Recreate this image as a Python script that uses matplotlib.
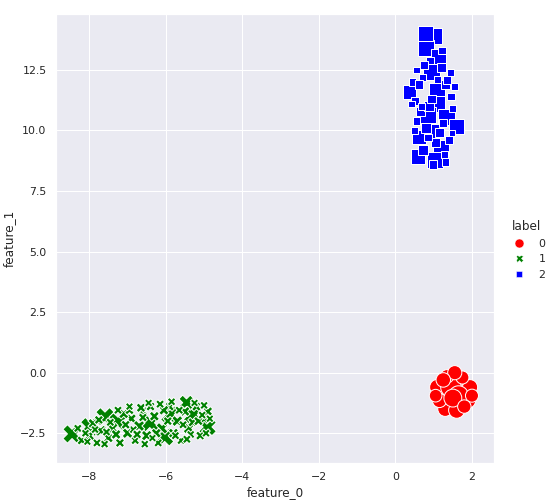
import matplotlib
matplotlib.use("Agg")
import matplotlib.pyplot as plt
from matplotlib.lines import Line2D
import seaborn as sns

sns.set_theme()

# cluster 0 (red circles)
red_x = [1.52, 1.35, 1.70, 1.20, 1.85, 1.40, 1.70, 1.55, 1.10, 1.95, 1.30, 1.60, 1.15, 1.90,
         1.45, 1.65, 1.50, 1.35, 1.75, 1.05, 2.00, 1.55, 1.25, 1.80]
red_y = [-0.85, -0.45, -0.40, -0.90, -0.85, -1.25, -1.20, -0.15, -0.60, -0.60, -1.50, -1.55,
         -1.15, -1.15, -0.60, -0.95, -1.05, -0.15, -0.20, -0.95, -0.95, 0.00, -0.30, -1.40]
red_s = [480, 380, 340, 350, 360, 340, 350, 300, 250, 230, 220, 260, 200, 230, 420, 390,
         320, 180, 170, 160, 170, 200, 210, 180]

# cluster 1 (green crosses)
green_x = [-8.45, -7.98, -7.59, -7.25, -6.42, -6.03, -5.90, -5.30, -4.91, -5.46,
           -8.2, -8.0, -7.8, -7.7, -7.5, -7.4, -7.2, -7.0, -6.9, -6.8, -6.7, -6.6, -6.5,
           -6.3, -6.2, -6.1, -5.9, -5.8, -5.7, -5.6, -5.5, -5.4, -5.2, -5.1, -5.0, -4.9,
           -7.9, -7.1, -6.4, -6.85, -7.6, -5.3, -8.3, -7.3, -7.05, -6.65, -6.25, -5.95,
           -5.65, -5.15, -4.95, -6.95, -7.45, -6.05, -5.35, -7.75, -6.55, -5.75, -8.1,
           -6.75, -5.55, -5.05, -6.45, -6.15, -5.85, -5.25, -5.0, -7.25, -6.95, -6.6,
           -7.85, -7.55, -6.35, -5.45, -4.85, -8.05]
green_y = [-2.53, -2.24, -1.82, -2.03, -2.07, -2.65, -1.74, -1.74, -2.24, -1.24,
           -2.8, -2.6, -2.9, -2.4, -2.7, -2.3, -2.9, -2.5, -1.9, -2.8, -2.2, -1.6, -2.6,
           -1.8, -2.9, -2.3, -1.4, -2.5, -2.0, -2.8, -1.6, -2.3, -1.4, -2.6, -1.9, -1.6,
           -2.1, -1.7, -1.4, -2.35, -2.95, -2.05, -2.3, -2.55, -2.15, -1.45, -2.5, -2.0,
           -1.55, -2.0, -2.5, -1.55, -2.05, -1.55, -2.55, -1.95, -2.95, -2.6, -2.5,
           -2.55, -2.15, -1.75, -1.25, -1.3, -1.2, -1.25, -1.35, -1.55, -1.4, -1.85,
           -2.35, -2.45, -2.7, -2.75, -1.9, -2.85]
green_s = [340, 360, 340, 330, 360, 340, 330, 340, 310, 230,
           90, 120, 80, 130, 100, 140, 90, 120, 105, 80, 130, 95, 120, 105, 80, 140, 90, 110,
           125, 80, 105, 130, 95, 90, 120, 95, 110, 105, 90, 75, 75, 95, 80, 105, 90, 95, 105,
           90, 80, 95, 75, 90, 80, 105, 75, 90, 75, 80, 75, 90, 80, 75, 70, 80, 75, 70, 75,
           80, 70, 85, 75, 80, 70, 80, 70, 70]

# cluster 2 (blue squares)
blue_x = [1.01, 0.95, 1.08, 1.08, 1.34, 0.95, 1.19, 1.03, 0.79, 1.60, 0.85, 0.61, 0.59,
          0.79, 1.13, 0.37, 0.90, 1.20, 0.70, 1.30, 0.50, 1.45, 0.65, 1.25, 0.80, 1.40,
          0.55, 1.15, 0.72, 1.50, 0.98, 0.45, 1.35, 0.88, 1.22, 0.62, 1.05, 0.75, 1.28, 0.93,
          0.55, 1.45, 0.68, 1.30, 0.50, 1.55, 0.42, 1.48, 0.85, 1.10]
blue_y = [13.90, 12.41, 11.63, 11.09, 10.56, 9.94, 9.28, 8.79, 13.41, 10.15, 10.64, 9.73,
          8.91, 13.99, 13.04, 11.59, 12.9, 12.6, 12.2, 11.9, 11.2, 11.4, 10.8, 10.3, 10.1,
          9.6, 10.4, 9.9, 9.2, 10.9, 8.6, 12.0, 12.1, 11.0, 13.3, 11.9, 9.5, 12.7, 9.0, 11.3,
          12.5, 12.4, 11.0, 8.7, 10.0, 11.8, 11.1, 9.9, 9.7, 12.1]
blue_s = [560, 560, 540, 560, 550, 560, 550, 520, 500, 450, 460, 420, 440, 460, 450, 380,
          110, 140, 100, 160, 130, 110, 170, 140, 200, 130, 110, 160, 180, 100, 140, 110, 130,
          200, 110, 140, 170, 130, 110, 160, 90, 100, 110, 100, 90, 100, 80, 90, 100, 90]

labels = ["0", "1", "2"]
colors = ["red", "green", "blue"]
markers = ["o", "X", (4, 0, 45)]

fig = plt.figure(figsize=(550 / 72, 500 / 72), dpi=72)
ax = fig.add_axes([0.1018, 0.074, 0.796, 0.898])

ax.scatter(red_x, red_y, s=red_s, c=colors[0], marker=markers[0], edgecolor="w", linewidth=1)
ax.scatter(green_x, green_y, s=green_s, c=colors[1], marker=markers[1], edgecolor="w", linewidth=1)
ax.scatter(blue_x, blue_y, s=blue_s, c=colors[2], marker=markers[2], edgecolor="w", linewidth=1)

ax.set_xlim(-8.87, 2.57)
ax.set_ylim(-3.73, 14.81)
ax.set_yticks([-2.5, 0.0, 2.5, 5.0, 7.5, 10.0, 12.5])
ax.set_xlabel("feature_0")
ax.set_ylabel("feature_1")

handles = [Line2D([], [], linestyle="none", marker=m, color=c, markersize=ms, markeredgecolor="w",
                  markeredgewidth=0.5)
           for m, c, ms in zip(markers, colors, [9, 7, 8])]
fig.legend(handles, labels, title="label", loc="center left", bbox_to_anchor=(0.905, 0.5),
           frameon=False)

fig.savefig("out.png", dpi=72)
